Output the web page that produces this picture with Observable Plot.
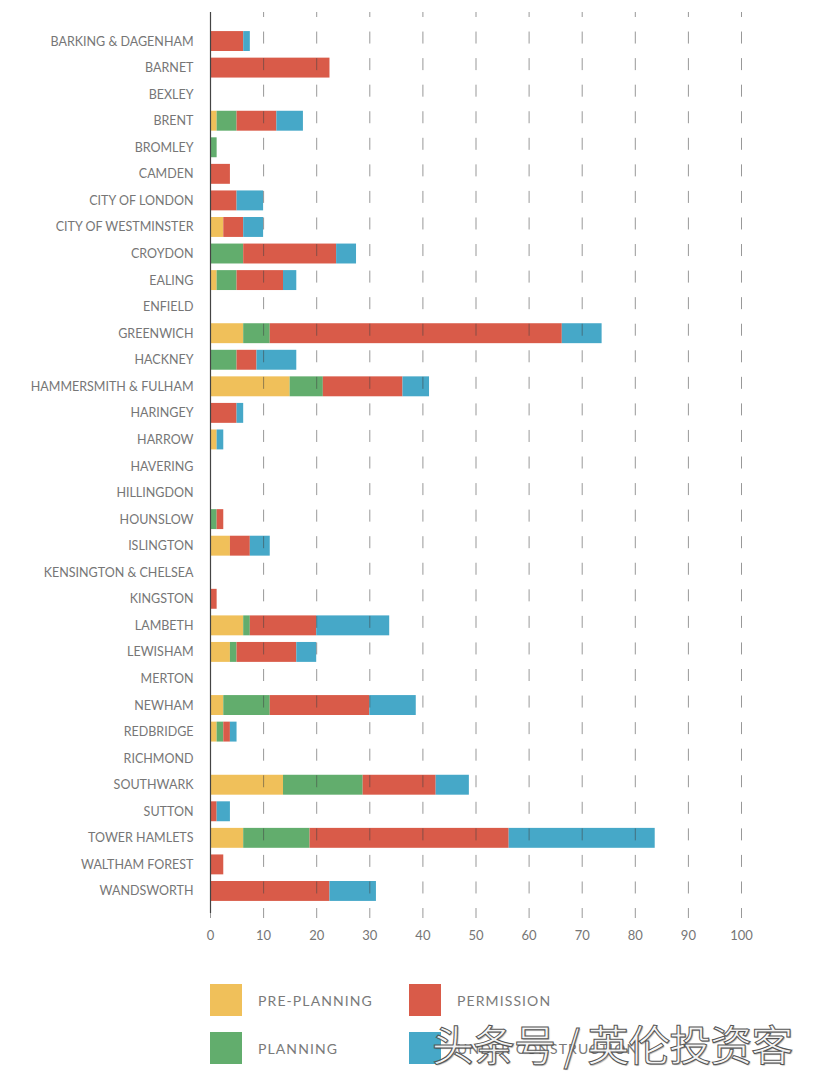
<!DOCTYPE html>
<html>
<head>
<meta charset="utf-8">
<script src="https://cdn.jsdelivr.net/npm/d3@7"></script>
<script src="https://cdn.jsdelivr.net/npm/@observablehq/plot@0.6"></script>
<style>
  html, body { margin: 0; padding: 0; background: #fff; }
  #wrap { position: relative; width: 820px; height: 1082px; font-family: Lato, "Noto Sans", sans-serif; }
  #chart { position: absolute; left: 0; top: 0; }
  .legend { position: absolute; left: 0; top: 0; }
  .item { position: absolute; display: flex; align-items: center; white-space: nowrap; }
  .sw { width: 32px; height: 32px; margin-right: 16px; flex: none; }
  .lab { font-size: 14px; letter-spacing: 1.1px; color: #7a7a7a; }
  .mark { position: absolute; left: 432px; top: 1020px; font-family: "Noto Sans CJK SC", sans-serif;
          font-size: 42px; line-height: 1.1; color: rgba(255,255,255,0.88); -webkit-text-stroke: 1px #555;
          text-shadow: 1px 1px 1px rgba(0,0,0,0.35); white-space: pre; letter-spacing: -1px; }
</style>
</head>
<body>
<div id="wrap">
  <div id="chart"></div>
  <div class="legend" id="legend"></div>
  <div class="mark">头条号 / 英伦投资客</div>
</div>
<script>
// London boroughs, top to bottom
const boroughs = [
  "BARKING & DAGENHAM", "BARNET", "BEXLEY", "BRENT", "BROMLEY", "CAMDEN",
  "CITY OF LONDON", "CITY OF WESTMINSTER", "CROYDON", "EALING", "ENFIELD",
  "GREENWICH", "HACKNEY", "HAMMERSMITH & FULHAM", "HARINGEY", "HARROW",
  "HAVERING", "HILLINGDON", "HOUNSLOW", "ISLINGTON", "KENSINGTON & CHELSEA",
  "KINGSTON", "LAMBETH", "LEWISHAM", "MERTON", "NEWHAM", "REDBRIDGE",
  "RICHMOND", "SOUTHWARK", "SUTTON", "TOWER HAMLETS", "WALTHAM FOREST",
  "WANDSWORTH"
];

// Pipeline stages (stack order) and their colours
const stages = ["PRE-PLANNING", "PLANNING", "PERMISSION", "UNDER CONSTRUCTION"];
const stageColors = ["#f0c05a", "#62ad6d", "#d95b49", "#46a8c8"];

// Values per stage, one entry per borough (same order as boroughs)
const prePlanning = [
  0, 0, 0, 1.25, 0, 0, 0, 2.5, 0, 1.25, 0,
  6.25, 0, 15, 0, 1.25, 0, 0, 0, 3.75, 0,
  0, 6.25, 3.75, 0, 2.5, 1.25, 0, 13.75, 0, 6.25, 0, 0
];
const planning = [
  0, 0, 0, 3.75, 1.25, 0, 0, 0, 6.25, 3.75, 0,
  5, 5, 6.25, 0, 0, 0, 0, 1.25, 0, 0,
  0, 1.25, 1.25, 0, 8.75, 1.25, 0, 15, 0, 12.5, 0, 0
];
const permission = [
  6.25, 22.5, 0, 7.5, 0, 3.75, 5, 3.75, 17.5, 8.75, 0,
  55, 3.75, 15, 5, 0, 0, 0, 1.25, 3.75, 0,
  1.25, 12.5, 11.25, 0, 18.75, 1.25, 0, 13.75, 1.25, 37.5, 2.5, 22.5
];
const underConstruction = [
  1.25, 0, 0, 5, 0, 0, 5, 3.75, 3.75, 2.5, 0,
  7.5, 7.5, 5, 1.25, 1.25, 0, 0, 0, 3.75, 0,
  0, 13.75, 3.75, 0, 8.75, 1.25, 0, 6.25, 2.5, 27.5, 0, 8.75
];

const xTicks = [0, 10, 20, 30, 40, 50, 60, 70, 80, 90, 100];

// Long-format table for the stacked bars
const series = [prePlanning, planning, permission, underConstruction];
const rows = [];
stages.forEach((stage, s) => {
  boroughs.forEach((b, i) => {
    if (series[s][i] > 0) rows.push({borough: b, stage, value: series[s][i]});
  });
});

const labelColor = "#767676";

const chart = Plot.plot({
  width: 820,
  height: 960,
  marginLeft: 210,
  marginRight: 79,
  marginTop: 12,
  marginBottom: 47,
  style: {fontFamily: "Lato, 'Noto Sans', sans-serif", background: "#fff"},
  x: {domain: [0, 100], label: null},
  y: {domain: boroughs, range: [17.8, 914.2], paddingInner: 0.25, paddingOuter: 0.5, round: false, label: null},
  color: {domain: stages, range: stageColors},
  marks: [
    Plot.barX(rows, {x: "value", y: "borough", fill: "stage", order: stages}),
    Plot.gridX(xTicks.slice(1), {stroke: "#444", strokeOpacity: 0.55, strokeWidth: 1,
      strokeDasharray: "12,14.56", strokeDashoffset: 7}),
    Plot.ruleX([0], {stroke: "#444", strokeWidth: 1.2}),
    Plot.axisX(xTicks, {tickSize: 5, tickPadding: 12, fontSize: 13, stroke: "#999",
      color: labelColor, label: null, tickFormat: d => d, style: {letterSpacing: "0.6px"}}),
    Plot.axisY({tickSize: 0, tickPadding: 17, fontSize: 12.5, color: labelColor, label: null,
      style: {letterSpacing: "1.25px"}})
  ]
});
document.getElementById("chart").appendChild(chart);

// Legend: two columns of swatches under the chart
const legend = document.getElementById("legend");
const positions = [[210, 984], [210, 1032], [409, 984], [409, 1032]];
stages.forEach((stage, i) => {
  const item = document.createElement("div");
  item.className = "item";
  item.style.left = positions[i][0] + "px";
  item.style.top = positions[i][1] + "px";
  const sw = document.createElement("div");
  sw.className = "sw";
  sw.style.background = stageColors[i];
  const lab = document.createElement("span");
  lab.className = "lab";
  lab.textContent = stage;
  item.appendChild(sw);
  item.appendChild(lab);
  legend.appendChild(item);
});
</script>
</body>
</html>
